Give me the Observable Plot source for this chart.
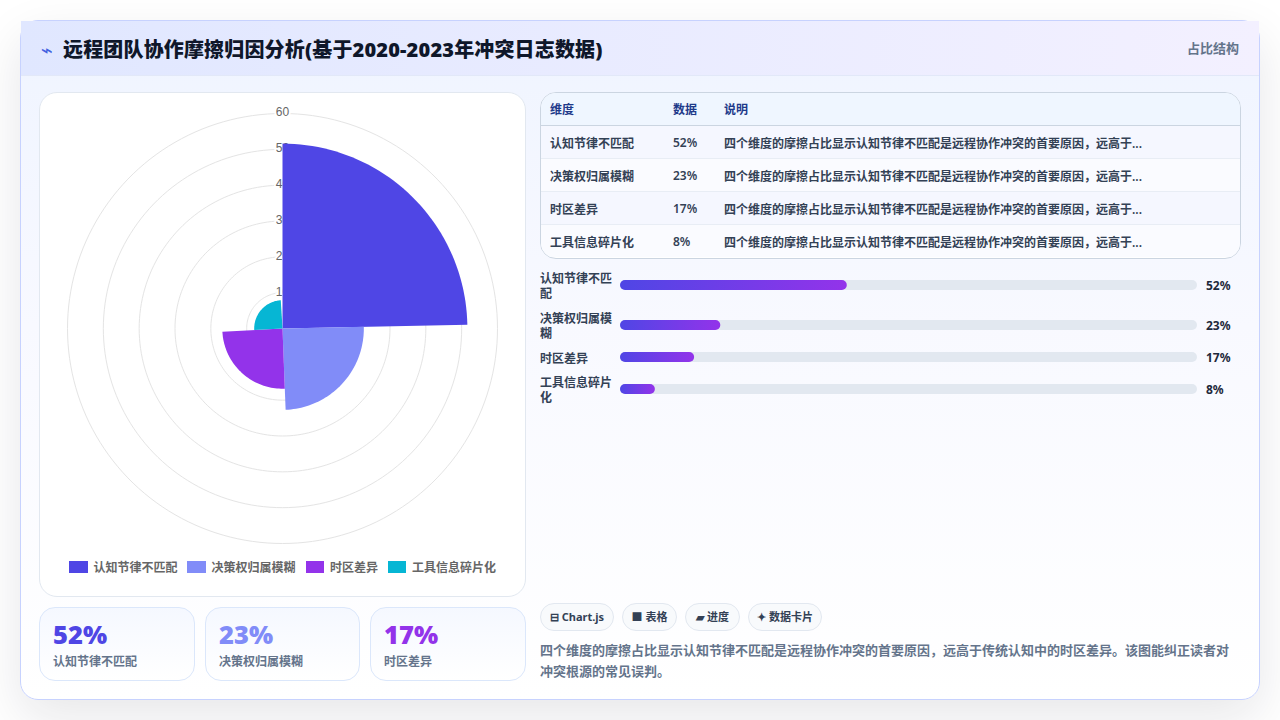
<!DOCTYPE html>
<html lang="zh"><head><meta charset="utf-8">
<script src="https://cdn.jsdelivr.net/npm/d3@7"></script>
<script src="https://cdn.jsdelivr.net/npm/@observablehq/plot@0.6"></script>
<style>
*{box-sizing:border-box}
html,body{margin:0;width:1280px;height:720px;overflow:hidden;background:#fff;font-family:"Noto Sans","Noto Sans CJK SC",sans-serif}
.abs{position:absolute}
#card{left:20px;top:20px;width:1240px;height:680px;border:1px solid #c7d2fe;border-radius:18px;background:linear-gradient(180deg,#eff4ff 0%,#f8f9ff 45%,#ffffff 100%);box-shadow:0 18px 50px rgba(15,23,42,.10)}
#head{left:21px;top:21px;width:1238px;height:55px;background:linear-gradient(90deg,#e0e7ff,#f3f0ff);border-bottom:1px solid #e2e8f8}
#icon{left:37px;top:36px;font-size:20px;line-height:28px;color:#4361e0;width:20px;text-align:center;font-family:"DejaVu Sans"}
#title{left:63px;top:35px;font-size:20px;line-height:30px;font-weight:900;letter-spacing:.16px;color:#0f172a;white-space:nowrap}
#tag{left:1187px;top:39px;font-size:13px;line-height:19px;font-weight:600;color:#64748b;white-space:nowrap}
#chartCard{left:39px;top:92px;width:487px;height:505px;background:#fff;border:1px solid #e2e8f0;border-radius:18px}
#chart{left:40px;top:103px}
#chart svg,.barplot svg{display:block;background:transparent}
#legend{top:558px;height:20px;font-size:12px;color:#666;font-weight:600}
.lg{position:absolute;top:0;display:flex;align-items:center;height:18px;white-space:nowrap}
.lg i{display:block;width:18.5px;height:12px;margin-right:6px}
.kpi{top:607px;height:74px;border:1px solid #dbe7fb;border-radius:16px;background:linear-gradient(180deg,#f5f8ff,#fff)}
.kpi b{position:absolute;left:13px;top:9px;font-size:25.5px;line-height:34px;font-weight:900}
.kpi span{position:absolute;left:13px;top:44.5px;font-size:12px;line-height:18px;color:#64748b;font-weight:600}
#tbl{left:540px;top:92px;width:701px;height:167px;border:1px solid #cbd5e1;border-radius:16px;overflow:hidden;background:#fff}
#tbl table{border-collapse:collapse;width:100%;font-size:12px;table-layout:fixed}
#tbl th{height:32px;text-align:left;font-weight:600;color:#1e3a8a;background:#eff6ff;border-bottom:1px solid #cbd5e1;padding:0 9px}
#tbl td{height:33px;color:#334155;font-weight:600;padding:2px 9px 0;border-bottom:1px solid #e8edf5;white-space:nowrap}
#tbl tr:last-child td{border-bottom:0}
#tbl tbody tr:nth-child(odd){background:#f5f7ff}
#tbl tbody tr:nth-child(even){background:#fafbff}
.row{position:absolute;left:540px;width:700px;display:flex;align-items:center}
.row .lb{width:80px;font-size:12px;line-height:15px;font-weight:600;color:#334155;padding:2px 6px 0 0}
.row .val{margin-left:9px;font-size:12px;font-weight:700;color:#1e293b}
.chip{position:absolute;top:603px;height:28px;border:1px solid #e2e8f0;border-radius:14px;background:#f8fafc;font-size:11px;line-height:26px;font-weight:700;color:#334155;text-align:center;white-space:nowrap}
#note{left:540px;top:640px;width:700px;font-size:13px;line-height:21px;font-weight:600;color:#64748b}
</style></head><body>
<div id="card" class="abs"></div><div id="head" class="abs"></div>
<div id="icon" class="abs">⌁</div>
<div id="title" class="abs">远程团队协作摩擦归因分析(基于2020-2023年冲突日志数据)</div>
<div id="tag" class="abs">占比结构</div>
<div id="chartCard" class="abs"></div><div id="chart" class="abs"></div><div id="legend" class="abs"></div>
<div id="tbl" class="abs"></div><div id="bars"></div><div id="chips"></div>
<div id="kpis"></div>
<div id="note" class="abs">四个维度的摩擦占比显示认知节律不匹配是远程协作冲突的首要原因，远高于传统认知中的时区差异。该图能纠正读者对冲突根源的常见误判。</div>
<script>
const categories=["认知节律不匹配","决策权归属模糊","时区差异","工具信息碎片化"];
const shares=[52,23,17,8];
const sliceRadii=[51.6,22.7,16.8,7.9];
const sliceColors=["#4f46e5","#818cf8","#9333ea","#06b6d4"];
const sliceStartDeg=[0,88.8,177.8,267];
const sliceEndDeg=[88.8,177.8,267,356.5];
const radialTicks=[10,20,30,40,50,60];
const legendLefts=[69,187,305.5,387.5];
const tableHeaders=["维度","数据","说明"];
const tableNote="四个维度的摩擦占比显示认知节律不匹配是远程协作冲突的首要原因，远高于...";
const chips=[["⊟ Chart.js",540,74],["■ 表格",622,55],["▰ 进度",685,55],["✦ 数据卡片",748,74]];
const kpiLefts=[39,205,370],kpiWidths=[156,155,156];
const barRowCenters=[285,325,357,389];
const barTrackMax=132.3;

const rad=d=>d*Math.PI/180;
const polar=(v,deg)=>({x:v*Math.sin(rad(deg)),y:v*Math.cos(rad(deg))});
const rings=radialTicks.flatMap(t=>d3.range(0,361,2).map(a=>({t,...polar(t,a)})));
const sectors=categories.flatMap((c,i)=>{
  const n=48,a0=sliceStartDeg[i],a1=sliceEndDeg[i];
  return [{c,x:0,y:0},...d3.range(n+1).map(k=>({c,...polar(sliceRadii[i],a0+(a1-a0)*k/n)}))];
});
const W=484,H=450,unit=215/60;
const plot=Plot.plot({width:W,height:H,margin:0,
  x:{domain:[-W/2/unit,W/2/unit],range:[0,W],axis:null},
  y:{domain:[-H/2/unit,H/2/unit],range:[H,0],axis:null},
  color:{domain:categories,range:sliceColors},
  marks:[
    Plot.line(rings,{x:"x",y:"y",z:"t",stroke:"#e4e4e4",strokeWidth:1,curve:"linear"}),
    Plot.text(radialTicks,{x:()=>0,y:d=>d,text:d=>String(d),dy:-1,fontSize:12,fill:"#666",stroke:"#fff",strokeWidth:4,fontFamily:"Liberation Sans"}),
    Plot.line(sectors,{x:"x",y:"y",z:"c",fill:"c",stroke:"none",curve:"linear-closed"})
  ]});
document.getElementById("chart").append(plot);

const lg=document.getElementById("legend");
categories.forEach((c,i)=>{const e=document.createElement("div");e.className="lg";e.style.left=legendLefts[i]+"px";
  e.innerHTML=`<i style="background:${sliceColors[i]}"></i>${c}`;lg.append(e);});

document.getElementById("tbl").innerHTML=`<table><colgroup><col style="width:123px"><col style="width:51px"><col></colgroup><thead><tr>${tableHeaders.map(h=>`<th>${h}</th>`).join("")}</tr></thead><tbody>${categories.map((c,i)=>`<tr><td>${c}</td><td>${shares[i]}%</td><td>${tableNote}</td></tr>`).join("")}</tbody></table>`;

const barsEl=document.getElementById("bars");
categories.forEach((c,i)=>{
  const r=document.createElement("div");r.className="row";r.style.top=(barRowCenters[i]-16)+"px";r.style.height="32px";
  r.innerHTML=`<div class="lb">${c}</div><div class="barplot"></div><div class="val">${shares[i]}%</div>`;
  const grad=()=>{const s=d3.create("svg:defs");const g=s.append("linearGradient").attr("id","barGrad"+i);
    g.append("stop").attr("offset","0").attr("stop-color","#4f46e5");
    g.append("stop").attr("offset","1").attr("stop-color","#9333ea");return s.node();};
  r.querySelector(".barplot").append(Plot.plot({width:577,height:10,margin:0,
    x:{domain:[0,barTrackMax],range:[0,577],axis:null},
    marks:[grad,
      Plot.barX([barTrackMax],{x1:()=>0,x2:d=>d,fill:"#e2e8f0",rx:5}),
      Plot.barX([shares[i]],{x1:()=>0,x2:d=>d,fill:`url(#barGrad${i})`,rx:5})]}));
  barsEl.append(r);
});

const chipsEl=document.getElementById("chips");
chips.forEach(([t,l,w])=>{const e=document.createElement("div");e.className="chip";e.style.left=l+"px";e.style.width=w+"px";e.textContent=t;chipsEl.append(e);});

const kp=document.getElementById("kpis");
[0,1,2].forEach(i=>{const e=document.createElement("div");e.className="kpi abs";e.style.left=kpiLefts[i]+"px";e.style.width=kpiWidths[i]+"px";
  e.innerHTML=`<b style="color:${sliceColors[i]}">${shares[i]}%</b><span>${categories[i]}</span>`;kp.append(e);});
</script></body></html>
